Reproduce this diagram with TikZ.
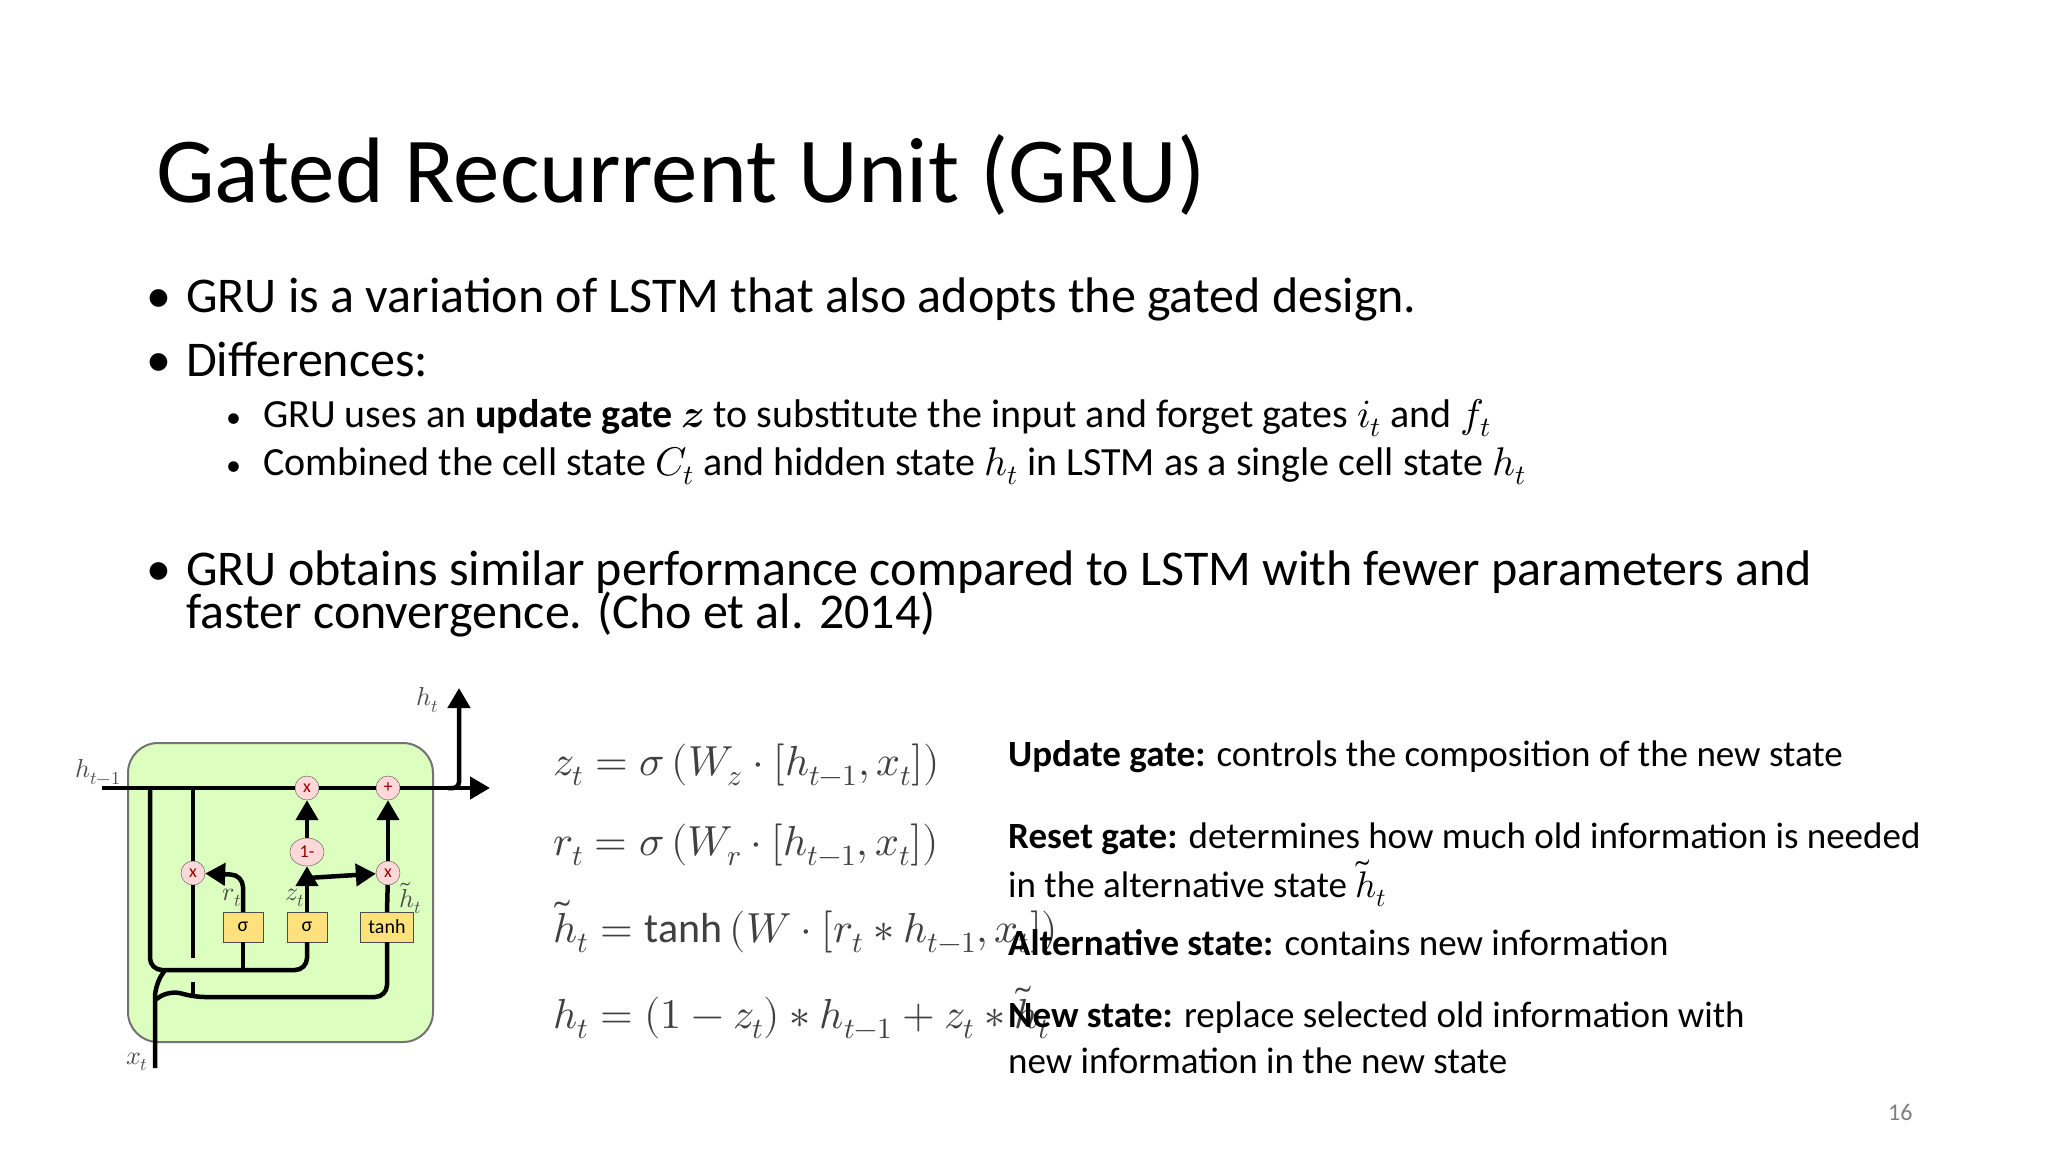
\documentclass[tikz,border=0pt]{standalone}
\usepackage{amsmath}
\usepackage{fontspec}
\usepackage{unicode-math}
\setmainfont{Carlito}
\setmathfont{Latin Modern Math}
\usetikzlibrary{arrows.meta,shapes.geometric}
\begin{document}
\begin{tikzpicture}[x=1pt,y=-1pt,
  txt/.style={anchor=base west,inner sep=0pt,text=black},
  wire/.style={line width=4.5pt,black,rounded corners=12pt},
  arr/.style={wire,-{Triangle[length=20pt,width=22pt]}},
  op/.style={circle,draw=black!70,fill=red!15,minimum size=24pt,inner sep=0pt,font=\fontsize{18}{18}\selectfont,text=red!60!black},
  gate/.style={draw=black!70,fill=yellow!60!orange!50,minimum height=30pt,inner sep=0pt,font=\fontsize{20}{20}\selectfont},
  eq/.style={anchor=base west,inner sep=0pt,text=black!75,font=\fontsize{42}{42}\selectfont},
  dl/.style={inner sep=0pt,text=black!70,font=\fontsize{26}{26}\selectfont}]
\useasboundingbox[fill=white] (0,0) rectangle (2048,1152);
\node[txt,font=\fontsize{93}{93}\selectfont] (title) at (156,202) {Gated Recurrent Unit (GRU)};
\node[txt,font=\fontsize{50}{50}\selectfont] (b1d) at (146,312) {•};
\node[txt,font=\fontsize{50}{50}\selectfont] (b1) at (186,312) {GRU is a variation of LSTM that also adopts the gated design.};
\node[txt,font=\fontsize{50}{50}\selectfont] (b2d) at (146,376) {•};
\node[txt,font=\fontsize{50}{50}\selectfont] (b2) at (186,376) {Differences:};
\node[txt,font=\fontsize{30}{30}\selectfont] (s1d) at (226,427) {•};
\node[txt,font=\fontsize{40}{40}\selectfont] (s1) at (263,427) {GRU uses an \textbf{update gate} $\mathbfit{z}$ to substitute the input and forget gates $i_t$ and $f_t$};
\node[txt,font=\fontsize{30}{30}\selectfont] (s2d) at (226,475) {•};
\node[txt,font=\fontsize{40}{40}\selectfont] (s2) at (263,475) {Combined the cell state $C_t$ and hidden state $h_t$ in LSTM as a single cell state $h_t$};
\node[txt,font=\fontsize{50}{50}\selectfont] (b3d) at (146,585) {•};
\node[txt,font=\fontsize{50}{50}\selectfont] (b3) at (186,585) {GRU obtains similar performance compared to LSTM with fewer parameters and};
\node[txt,font=\fontsize{50}{50}\selectfont] (b3b) at (186,628) {faster convergence. (Cho et al. 2014)};
% equations
\node[eq] (e1) at (553,775) {$z_t=\sigma\left(W_z\cdot[h_{t-1},x_t]\right)$};
\node[eq] (e2) at (553,855) {$r_t=\sigma\left(W_r\cdot[h_{t-1},x_t]\right)$};
\node[eq] (e3) at (553,942) {$\tilde h_t=\tanh\left(W\cdot[r_t*h_{t-1},x_t]\right)$};
\node[eq] (e4) at (553,1028) {$h_t=(1-z_t)*h_{t-1}+z_t*\tilde h_t$};
% descriptions
\begin{scope}[every node/.style={txt,font=\fontsize{37}{37}\selectfont}]
\node (d1) at (1008,766) {\textbf{Update gate:} controls the composition of the new state};
\node (d2) at (1008,848) {\textbf{Reset gate:} determines how much old information is needed};
\node (d2b) at (1008,897) {in the alternative state $\tilde h_t$};
\node (d3) at (1008,955) {\textbf{Alternative state:} contains new information};
\node (d4) at (1008,1027) {\textbf{New state:} replace selected old information with};
\node (d4b) at (1008,1073) {new information in the new state};
\end{scope}
\node[txt,text=black!50,font=\fontsize{24}{24}\selectfont] (pg) at (1888,1120) {16};
% GRU cell
\node[draw=black!55,line width=2pt,fill=green!40!lime!25,rounded corners=30pt,minimum width=305pt,minimum height=299pt,inner sep=0pt] (cell) at (280.5,892.5) {};
\coordinate (in) at (102,788);
\coordinate (out) at (490,788);
\coordinate (xin) at (155,1068);
\coordinate (htop) at (459,688);
\node[op] (m1) at (193,873) {x};
\node[op] (m2) at (307,788) {x};
\node[op] (pl) at (388,788) {+};
\node[op,ellipse,minimum width=34pt,minimum height=28pt] (om) at (307,852) {1-};
\node[op] (m3) at (388,873) {x};
\node[gate,minimum width=40pt] (sg1) at (243,927) {σ};
\node[gate,minimum width=40pt] (sg2) at (307,927) {σ};
\node[gate,minimum width=53pt] (th) at (387,927) {tanh};
\draw[wire] (in) -- (m2);
\draw[wire] (m2) -- (pl);
\draw[arr] (pl) -- (out);
\draw[arr,rounded corners=6pt] (448,788) -| (htop);
\draw[wire] (150,788) -- (150,970) -- (sg2.south |- 0,970) -- (sg2.south);
\draw[wire] (sg1.south) -- (243,970);
\draw[wire] (xin) -- (155,985) -- (165,970);
\draw[wire] (155,1000) -- (170,990) -- (193,997) -- (th.south |- 0,997) -- (th.south);
\draw[wire] (193,788) -- (m1) -- (193,958);
\draw[wire] (193,982) -- (193,997);
\draw[arr] (sg1.north) -- (243,875) -- (m1);
\draw[arr] (sg2.north) -- (om);
\draw[arr] (om) -- (m2);
\draw[arr] (307,878) -- (m3);
\draw[wire] (th.north) -- (m3);
\draw[arr] (m3) -- (pl);
\node[dl] (lht1) at (98,772) {$h_{t-1}$};
\node[dl] (lht) at (428,700) {$h_t$};
\node[dl] (lxt) at (137,1062) {$x_t$};
\node[dl] (lrt) at (232,898) {$r_t$};
\node[dl] (lzt) at (295,898) {$z_t$};
\node[dl] (lhtil) at (411,898) {$\tilde h_t$};
\end{tikzpicture}
\end{document}
